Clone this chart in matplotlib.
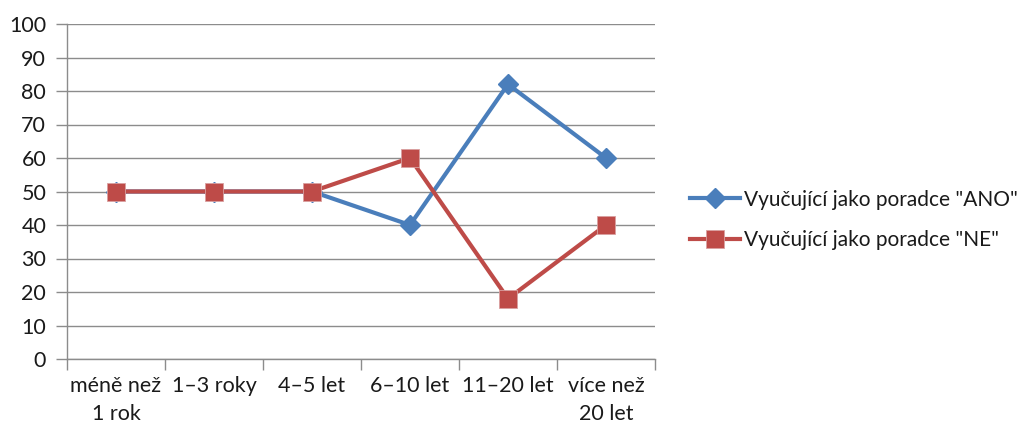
import matplotlib
matplotlib.use("Agg")
import matplotlib.pyplot as plt
import numpy as np

categories = ["méně než\n1 rok", "1–3 roky", "4–5 let", "6–10 let", "11–20 let", "více než\n20 let"]
ano = [50, 50, 50, 40, 82, 60]
ne = [50, 50, 50, 60, 18, 40]
yticks = list(range(0, 101, 10))
label_ano = 'Vyučující jako poradce "ANO"'
label_ne = 'Vyučující jako poradce "NE"'

plt.rcParams['font.family'] = ['Lato', 'DejaVu Sans']

W, H = 1036, 430
fig = plt.figure(figsize=(W / 100, H / 100), dpi=100)
ax = fig.add_axes([67 / W, 1 - 359 / H, (655 - 67) / W, (359 - 24) / H])

x = np.arange(len(categories))
blue = "#4A7EBB"
red = "#BE4B48"
ax.plot(x, ano, color=blue, lw=3, marker="D", markersize=10.5, label=label_ano, zorder=3)
ax.plot(x, ne, color=red, lw=3, marker="s", markersize=13.5,
        markeredgecolor="#D9A0A0", markeredgewidth=0.6, label=label_ne, zorder=4)

ax.set_xlim(-0.5, len(categories) - 0.5)
ax.set_ylim(0, 100)
ax.set_yticks(yticks)
ax.set_yticklabels([str(v) for v in yticks])
ax.yaxis.grid(True, color="#8C8C8C", lw=1)
ax.set_axisbelow(True)

ax.set_xticks(np.arange(-0.5, len(categories), 1.0))
ax.set_xticklabels([])
ax.set_xticks(x, minor=True)
ax.set_xticklabels(categories, minor=True, fontsize=15.5, color="#1a1a1a", linespacing=1.5)
ax.tick_params(axis="x", which="minor", length=0, pad=12)
ax.tick_params(axis="x", which="major", length=8, color="#8C8C8C", width=1)
ax.tick_params(axis="y", length=8, color="#8C8C8C", width=1, labelsize=15.5, labelcolor="#1a1a1a", pad=7)

for s in ["top", "right"]:
    ax.spines[s].set_visible(False)
for s in ["left", "bottom"]:
    ax.spines[s].set_color("#8C8C8C")
    ax.spines[s].set_linewidth(1)

leg = fig.legend(loc="center left", bbox_to_anchor=(677 / W, 1 - 220 / H), frameon=False,
                 fontsize=15, handlelength=2.4, labelspacing=1.0, handletextpad=0.2,
                 borderpad=0.3, borderaxespad=0.3)
for t in leg.get_texts():
    t.set_color("#1a1a1a")

fig.savefig("out.png", dpi=100)
